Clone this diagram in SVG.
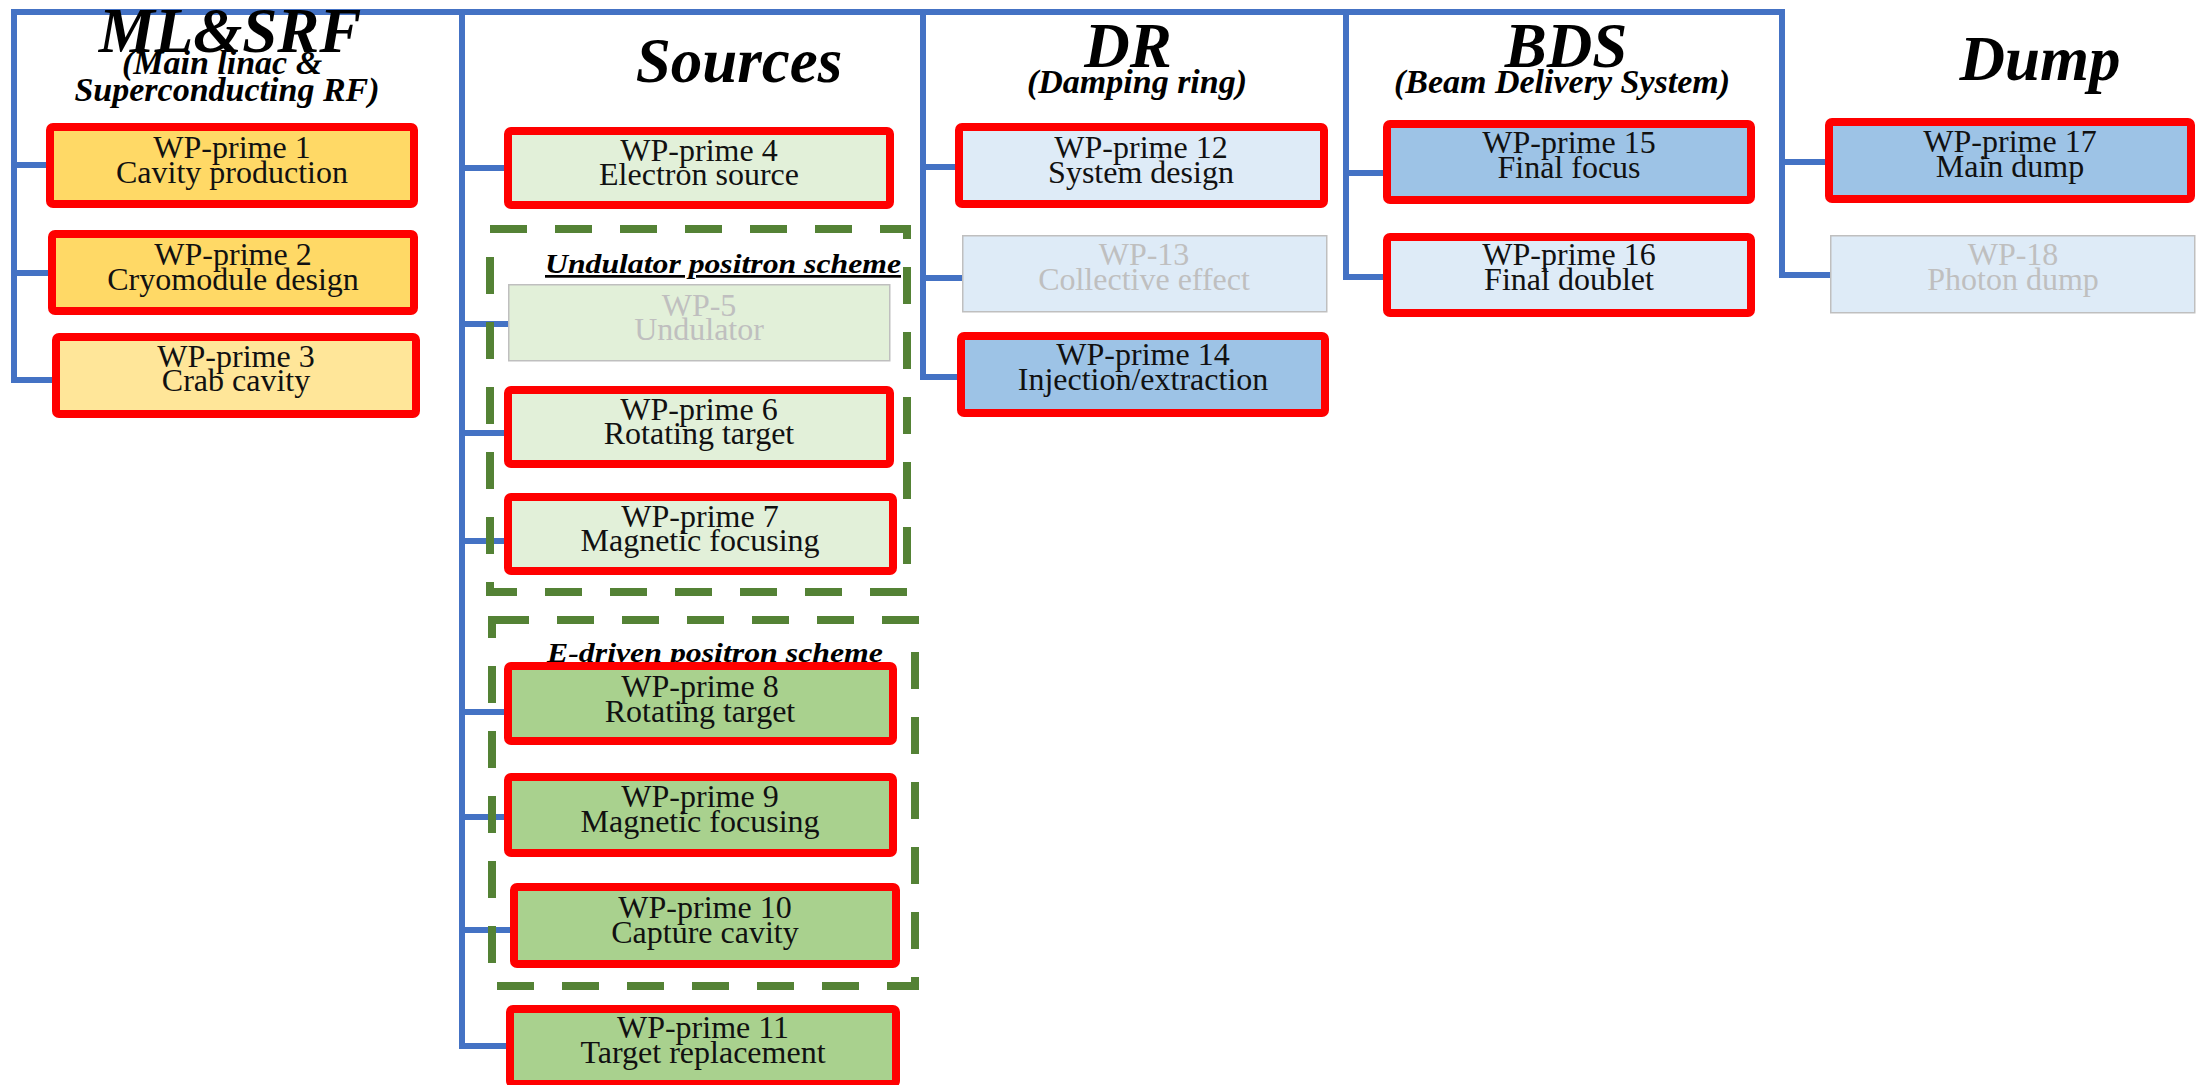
<svg xmlns="http://www.w3.org/2000/svg" width="2203" height="1085" viewBox="0 0 2203 1085">
<style>
.bg{fill:#ffffff}
.conn{stroke:#4472C4;stroke-width:6;fill:none;stroke-linecap:square}
.wp{stroke:#FF0000;stroke-width:8}
.ghost{stroke:#BFBFBF;stroke-width:1.5}
.gold{fill:#FFD966}
.gold2{fill:#FFE699}
.lg{fill:#E2F0D9}
.dg{fill:#A9D18E}
.lb{fill:#DEEBF7}
.mb{fill:#9DC3E6}
.dash{fill:none;stroke:#548235;stroke-width:8;stroke-dasharray:37 28}
text{font-family:'Liberation Serif','Tinos','Times New Roman','DejaVu Serif',serif}
.t{font-size:32px;fill:#111111;text-anchor:middle}
.tg{font-size:32px;fill:#BFBFBF;text-anchor:middle}
.h1{font-weight:bold;font-style:italic;font-size:63px;fill:#000;text-anchor:middle}
.h2{font-weight:bold;font-style:italic;font-size:34px;fill:#000;text-anchor:middle}
.h3{font-weight:bold;font-style:italic;font-size:27px;fill:#000}
</style>
<rect class="bg" x="0" y="0" width="2203" height="1085"/>

<g id="connectors">
  <path class="conn" d="M14 12 H1782"/>
  <path class="conn" d="M14 12 V380 M14 165 H46 M14 273 H48 M14 380 H52"/>
  <path class="conn" d="M462 12 V1046 M462 168 H504 M462 324 H508 M462 433 H504 M462 541 H504 M462 712 H504 M462 817 H504 M462 930 H510 M462 1046 H506"/>
  <path class="conn" d="M923 12 V377 M923 167 H955 M923 278 H962 M923 377 H957"/>
  <path class="conn" d="M1346 12 V277 M1346 173 H1383 M1346 277 H1383"/>
  <path class="conn" d="M1782 12 V275 M1782 162 H1825 M1782 275 H1830"/>
</g>

<g id="titles">
  <text class="h1" x="230" y="52">ML&amp;SRF</text>
  <text class="h2" x="222" y="74" font-size="32">(Main linac &amp;</text>
  <text class="h2" x="227" y="101" font-size="32">Superconducting RF)</text>
  <text class="h1" x="739" y="82">Sources</text>
  <text class="h1" x="1128" y="67">DR</text>
  <text class="h2" x="1137" y="93">(Damping ring)</text>
  <text class="h1" x="1566" y="67">BDS</text>
  <text class="h2" x="1562" y="93">(Beam Delivery System)</text>
  <text class="h1" x="2040" y="80">Dump</text>
</g>

<g id="undulator-scheme">
  <text class="h3" x="545" y="273" textLength="356" lengthAdjust="spacingAndGlyphs" text-decoration="underline">Undulator positron scheme</text>
</g>
<g id="edriven-scheme">
  <text class="h3" x="547" y="662" textLength="336" lengthAdjust="spacingAndGlyphs">E-driven positron scheme</text>
</g>

<g id="wp1"><rect class="wp gold" x="50" y="127" width="364" height="77" rx="3"/><text class="t" x="232" y="158">WP-prime 1</text><text class="t" x="232" y="183">Cavity production</text></g>
<g id="wp2"><rect class="wp gold" x="52" y="234" width="362" height="77" rx="3"/><text class="t" x="233" y="265">WP-prime 2</text><text class="t" x="233" y="290">Cryomodule design</text></g>
<g id="wp3"><rect class="wp gold2" x="56" y="337" width="360" height="77" rx="3"/><text class="t" x="236" y="367">WP-prime 3</text><text class="t" x="236" y="391">Crab cavity</text></g>

<g id="wp4"><rect class="wp lg" x="508" y="131" width="382" height="74" rx="3"/><text class="t" x="699" y="161">WP-prime 4</text><text class="t" x="699" y="185">Electron source</text></g>
<g id="wp5"><rect class="ghost lg" x="508.75" y="284.75" width="381" height="76"/><text class="tg" x="699" y="316">WP-5</text><text class="tg" x="699" y="340">Undulator</text></g>
<g id="wp6"><rect class="wp lg" x="508" y="390" width="382" height="74" rx="3"/><text class="t" x="699" y="420">WP-prime 6</text><text class="t" x="699" y="444">Rotating target</text></g>
<g id="wp7"><rect class="wp lg" x="508" y="497" width="385" height="74" rx="3"/><text class="t" x="700" y="527">WP-prime 7</text><text class="t" x="700" y="551">Magnetic  focusing</text></g>

<g id="wp8"><rect class="wp dg" x="508" y="666" width="385" height="75" rx="3"/><text class="t" x="700" y="697">WP-prime 8</text><text class="t" x="700" y="722">Rotating target</text></g>
<g id="wp9"><rect class="wp dg" x="508" y="777" width="385" height="76" rx="3"/><text class="t" x="700" y="807">WP-prime 9</text><text class="t" x="700" y="832">Magnetic  focusing</text></g>
<g id="wp10"><rect class="wp dg" x="514" y="887" width="382" height="77" rx="3"/><text class="t" x="705" y="918">WP-prime 10</text><text class="t" x="705" y="943">Capture cavity</text></g>
<g id="wp11"><rect class="wp dg" x="510" y="1009" width="386" height="75" rx="3"/><text class="t" x="703" y="1038">WP-prime 11</text><text class="t" x="703" y="1063">Target  replacement</text></g>

<g id="group-undulator"><rect class="dash" x="490" y="229" width="417" height="363"/></g>
<g id="group-edriven"><rect class="dash" x="492" y="620" width="423" height="366"/></g>

<g id="wp12"><rect class="wp lb" x="959" y="127" width="365" height="77" rx="3"/><text class="t" x="1141" y="158">WP-prime 12</text><text class="t" x="1141" y="183">System  design</text></g>
<g id="wp13"><rect class="ghost lb" x="962.75" y="235.75" width="364" height="76"/><text class="tg" x="1144" y="265">WP-13</text><text class="tg" x="1144" y="290">Collective effect</text></g>
<g id="wp14"><rect class="wp mb" x="961" y="336" width="364" height="77" rx="3"/><text class="t" x="1143" y="365">WP-prime 14</text><text class="t" x="1143" y="390">Injection/extraction</text></g>

<g id="wp15"><rect class="wp mb" x="1387" y="124" width="364" height="76" rx="3"/><text class="t" x="1569" y="153">WP-prime 15</text><text class="t" x="1569" y="178">Final focus</text></g>
<g id="wp16"><rect class="wp lb" x="1387" y="237" width="364" height="76" rx="3"/><text class="t" x="1569" y="265">WP-prime 16</text><text class="t" x="1569" y="290">Final doublet</text></g>

<g id="wp17"><rect class="wp mb" x="1829" y="122" width="362" height="77" rx="3"/><text class="t" x="2010" y="152">WP-prime 17</text><text class="t" x="2010" y="177">Main dump</text></g>
<g id="wp18"><rect class="ghost lb" x="1830.75" y="235.75" width="364" height="77"/><text class="tg" x="2013" y="265">WP-18</text><text class="tg" x="2013" y="290">Photon dump</text></g>
</svg>
